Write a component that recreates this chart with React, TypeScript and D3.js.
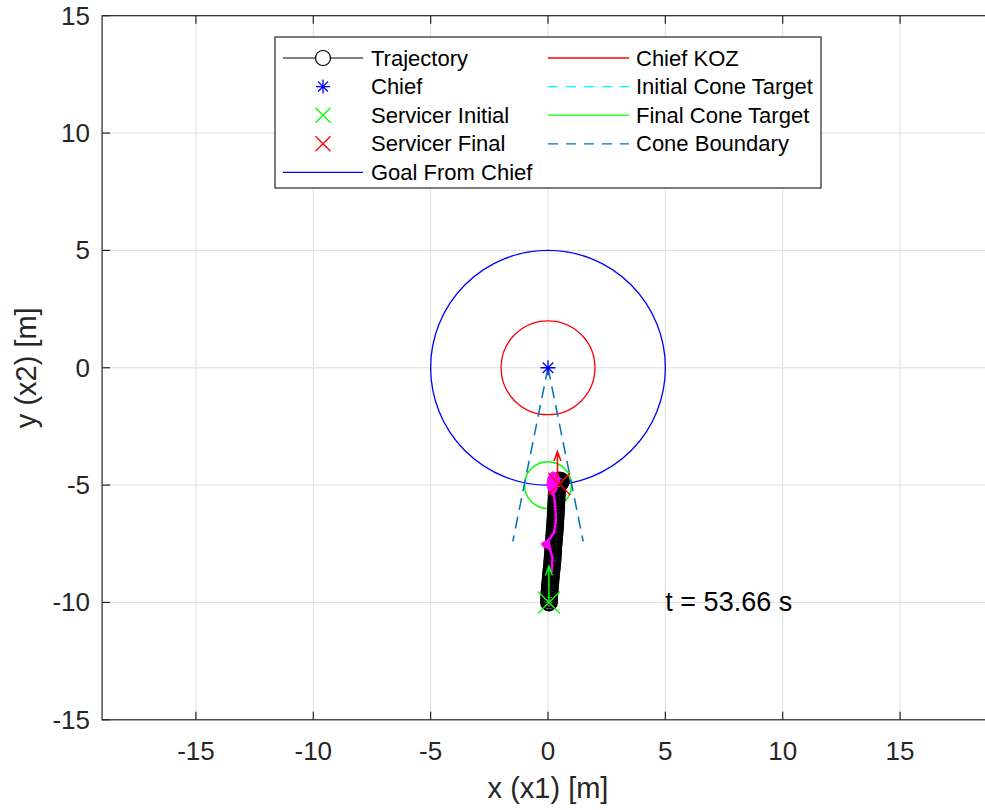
import React from 'react';
import * as d3 from 'd3';

const W = 985;
const H = 810;
const FONT = '"Liberation Sans", Arial, Helvetica, sans-serif';

// axes limits (axis equal, x is wider than the picture)
const xLim = [-19, 19];
const yLim = [-15, 15];
const xTicks = [-15, -10, -5, 0, 5, 10, 15];
const yTicks = [-15, -10, -5, 0, 5, 10, 15];

// trajectory samples (ko-)
const trajX = [0.04, 0.05, 0.05, 0.06, 0.07, 0.08, 0.08, 0.10, 0.11, 0.12, 0.13, 0.14, 0.16, 0.17, 0.18,
  0.19, 0.20, 0.21, 0.22, 0.22, 0.23, 0.24, 0.25, 0.26, 0.27, 0.28, 0.29, 0.30, 0.31, 0.31, 0.32, 0.33,
  0.33, 0.34, 0.35, 0.35, 0.36, 0.37, 0.37, 0.38, 0.39, 0.40, 0.42, 0.45, 0.50, 0.55, 0.52, 0.48];
const trajY = [-10.00, -9.88, -9.76, -9.64, -9.52, -9.40, -9.28, -9.16, -9.04, -8.92, -8.80, -8.68, -8.56,
  -8.44, -8.32, -8.20, -8.08, -7.96, -7.84, -7.72, -7.60, -7.48, -7.36, -7.24, -7.12, -7.00, -6.88, -6.76,
  -6.64, -6.52, -6.40, -6.28, -6.16, -6.04, -5.92, -5.80, -5.68, -5.56, -5.44, -5.32, -5.20, -5.08, -4.96,
  -4.86, -4.80, -4.82, -4.90, -4.95];

// magenta trace along the trajectory
const magX = [0.15, 0.19, 0.09, -0.21, 0.04, 0.26, 0.34, 0.30, 0.26, 0.17, 0.04, 0.21, 0.43];
const magY = [-8.72, -8.09, -7.74, -7.53, -7.32, -7.02, -6.47, -5.83, -5.49, -5.19, -4.98, -4.68, -4.55];
const magBlobX = [0.0, 0.17, 0.43, 0.51, 0.38, 0.21, 0.04, -0.04];
const magBlobY = [-4.68, -4.43, -4.51, -4.77, -5.19, -5.45, -5.28, -4.98];
const magSpikeX = [0.04, -0.28, -0.22, 0.12];
const magSpikeY = [-7.30, -7.48, -7.62, -7.70];

// quiver arrows
const initArrow = [[0.04, -10.0], [0.04, -8.45]];
const finalArrow = [[0.41, -4.72], [0.40, -3.57]];

// circles: [cx, cy, r]
const goalCircle = [0, 0, 5];
const kozCircle = [0, 0, 2];
const finalConeCircle = [0, -5, 1];

// cone boundary from chief
const coneX = [-1.5, 1.5];
const coneY = [-7.4, -7.4];

const chiefPos = [0, 0];
const servicerInit = [0.04, -10.0];
const servicerFinal = [0.48, -4.95];

const timeLabel = 't = 53.66 s';
const timePos = [5, -10];

const legendLeft = ['Trajectory', 'Chief', 'Servicer Initial', 'Servicer Final', 'Goal From Chief'];
const legendRight = ['Chief KOZ', 'Initial Cone Target', 'Final Cone Target', 'Cone Boundary'];

const unit = 23.47;
const x0 = 548;
const top = 15.7;
const bottom = top + 30 * unit;

const xScale = d3.scaleLinear().domain(xLim).range([x0 + xLim[0] * unit, x0 + xLim[1] * unit]);
const yScale = d3.scaleLinear().domain(yLim).range([bottom, top]);
const left = xScale(xLim[0]);
const right = xScale(xLim[1]);

const line = d3.line<number[]>().x(d => xScale(d[0])).y(d => yScale(d[1]));
const zip = (a: number[], b: number[]) => a.map((v, i) => [v, b[i]]);

const AX = '#262626';
const GRID = '#dfdfdf';
const CONE = '#0072BD';

function XMark({ x, y, s, color }: any) {
  return <path d={`M${x - s},${y - s}L${x + s},${y + s}M${x - s},${y + s}L${x + s},${y - s}`} stroke={color} strokeWidth={1.3} fill="none" />;
}

function Star({ x, y, s, color }: any) {
  const d = s * 0.707;
  return <path d={`M${x - s},${y}L${x + s},${y}M${x},${y - s}L${x},${y + s}M${x - d},${y - d}L${x + d},${y + d}M${x - d},${y + d}L${x + d},${y - d}`} stroke={color} strokeWidth={1.3} fill="none" />;
}

function Arrow({ pts, color }: any) {
  const [a, b] = pts;
  const x1 = xScale(a[0]), y1 = yScale(a[1]), x2 = xScale(b[0]), y2 = yScale(b[1]);
  const ang = Math.atan2(y2 - y1, x2 - x1);
  const len = 10, spread = 0.35;
  const h1 = [x2 - len * Math.cos(ang - spread), y2 - len * Math.sin(ang - spread)];
  const h2 = [x2 - len * Math.cos(ang + spread), y2 - len * Math.sin(ang + spread)];
  return <path d={`M${x1},${y1}L${x2},${y2}M${h1[0]},${h1[1]}L${x2},${y2}L${h2[0]},${h2[1]}`} stroke={color} strokeWidth={1.5} fill="none" />;
}

export default function App() {
  const rPx = (r: number) => xScale(r) - xScale(0);
  const traj = zip(trajX, trajY);

  const legX = 275, legY = 37, legW = 546, legH = 151;
  const rowH = 28.6, row0 = 58;
  const lx1 = 283, lx2 = 363, ltx = 371;
  const rx1 = 548, rx2 = 629, rtx = 636;

  return (
    <svg width={W} height={H} style={{ position: 'absolute', left: 0, top: 0, background: '#fff' }} fontFamily={FONT}>
      <defs>
        <clipPath id="plotclip"><rect x={left} y={top} width={right - left} height={bottom - top} /></clipPath>
      </defs>
      <rect x={0} y={0} width={W} height={H} fill="#fff" />
      {/* grid */}
      {xTicks.map(t => <line key={'gx' + t} x1={xScale(t)} x2={xScale(t)} y1={top} y2={bottom} stroke={GRID} strokeWidth={1} />)}
      {yTicks.map(t => <line key={'gy' + t} x1={left} x2={right} y1={yScale(t)} y2={yScale(t)} stroke={GRID} strokeWidth={1} />)}

      <g clipPath="url(#plotclip)">
        <circle cx={xScale(goalCircle[0])} cy={yScale(goalCircle[1])} r={rPx(goalCircle[2])} fill="none" stroke="#0000ff" strokeWidth={1.3} />
        <circle cx={xScale(kozCircle[0])} cy={yScale(kozCircle[1])} r={rPx(kozCircle[2])} fill="none" stroke="#ff0000" strokeWidth={1.3} />
        <circle cx={xScale(finalConeCircle[0])} cy={yScale(finalConeCircle[1])} r={rPx(finalConeCircle[2])} fill="none" stroke="#00ff00" strokeWidth={1.5} />
        {coneX.map((cx, i) => (
          <path key={'cone' + i} d={line([chiefPos, [cx, coneY[i]]]) || ''} stroke={CONE} strokeWidth={1.5} strokeDasharray="12,7" fill="none" />
        ))}

        {/* trajectory */}
        <path d={line(traj) || ''} stroke="#000" strokeWidth={1} fill="none" />
        {traj.map((p, i) => (
          <circle key={'tr' + i} cx={xScale(p[0])} cy={yScale(p[1])} r={7.8} fill="none" stroke="#000" strokeWidth={2.4} />
        ))}

        {/* magenta trace */}
        <path d={(line(zip(magBlobX, magBlobY)) || '') + 'Z'} fill="#ff00ff" stroke="#ff00ff" strokeWidth={1} />
        <path d={(line(zip(magSpikeX, magSpikeY)) || '') + 'Z'} fill="#ff00ff" stroke="#ff00ff" strokeWidth={1} />
        <path d={line(zip(magX, magY)) || ''} stroke="#ff00ff" strokeWidth={2.5} fill="none" strokeLinejoin="round" />

        <Arrow pts={initArrow} color="#00ff00" />
        <Arrow pts={finalArrow} color="#ff0000" />

        <XMark x={xScale(servicerInit[0])} y={yScale(servicerInit[1])} s={11} color="#00ff00" />
        <XMark x={xScale(servicerFinal[0])} y={yScale(servicerFinal[1])} s={11} color="#ff0000" />
        <Star x={xScale(chiefPos[0])} y={yScale(chiefPos[1])} s={7.5} color="#0000ff" />

        <text x={xScale(timePos[0])} y={yScale(timePos[1])} dominantBaseline="central" fontSize={27} fill="#000">{timeLabel}</text>
      </g>

      {/* axes box and ticks */}
      <rect x={left} y={top} width={right - left} height={bottom - top} fill="none" stroke={AX} strokeWidth={1.2} />
      {xTicks.map(t => (
        <g key={'tx' + t}>
          <line x1={xScale(t)} x2={xScale(t)} y1={bottom} y2={bottom - 8} stroke={AX} strokeWidth={1.2} />
          <line x1={xScale(t)} x2={xScale(t)} y1={top} y2={top + 8} stroke={AX} strokeWidth={1.2} />
          <text x={xScale(t)} y={760} textAnchor="middle" fontSize={26} fill={AX}>{t}</text>
        </g>
      ))}
      {yTicks.map(t => (
        <g key={'ty' + t}>
          <line x1={left} x2={left + 8} y1={yScale(t)} y2={yScale(t)} stroke={AX} strokeWidth={1.2} />
          <text x={90} y={yScale(t)} textAnchor="end" dominantBaseline="central" fontSize={26} fill={AX}>{t}</text>
        </g>
      ))}
      <text x={x0} y={798} textAnchor="middle" fontSize={29} fill={AX}>x (x1) [m]</text>
      <text transform={`translate(36,${yScale(0)}) rotate(-90)`} textAnchor="middle" fontSize={29} fill={AX}>y (x2) [m]</text>

      {/* legend */}
      <rect x={legX} y={legY} width={legW} height={legH} fill="#fff" stroke={AX} strokeWidth={1.2} />
      {legendLeft.map((name, i) => {
        const y = row0 + i * rowH;
        const mx = (lx1 + lx2) / 2;
        let sample: any = null;
        if (i === 0) sample = (
          <g>
            <line x1={lx1} x2={lx2} y1={y} y2={y} stroke="#000" strokeWidth={1} />
            <circle cx={mx} cy={y} r={7.5} fill="#fff" stroke="#000" strokeWidth={1.2} />
          </g>
        );
        if (i === 1) sample = <Star x={mx} y={y} s={7} color="#0000ff" />;
        if (i === 2) sample = <XMark x={mx} y={y} s={7.5} color="#00ff00" />;
        if (i === 3) sample = <XMark x={mx} y={y} s={7.5} color="#ff0000" />;
        if (i === 4) sample = <line x1={lx1} x2={lx2} y1={y} y2={y} stroke="#0000ff" strokeWidth={1.3} />;
        return (
          <g key={'ll' + i}>
            {sample}
            <text x={ltx} y={y} dominantBaseline="central" fontSize={22} fill="#000">{name}</text>
          </g>
        );
      })}
      {legendRight.map((name, i) => {
        const y = row0 + i * rowH;
        const styles = [
          { c: '#ff0000', dash: undefined },
          { c: '#00ffff', dash: '10,8' },
          { c: '#00ff00', dash: undefined },
          { c: CONE, dash: '10,8' },
        ];
        const st = styles[i];
        return (
          <g key={'lr' + i}>
            <line x1={rx1} x2={rx2} y1={y} y2={y} stroke={st.c} strokeWidth={1.3} strokeDasharray={st.dash} />
            <text x={rtx} y={y} dominantBaseline="central" fontSize={22} fill="#000">{name}</text>
          </g>
        );
      })}
    </svg>
  );
}
